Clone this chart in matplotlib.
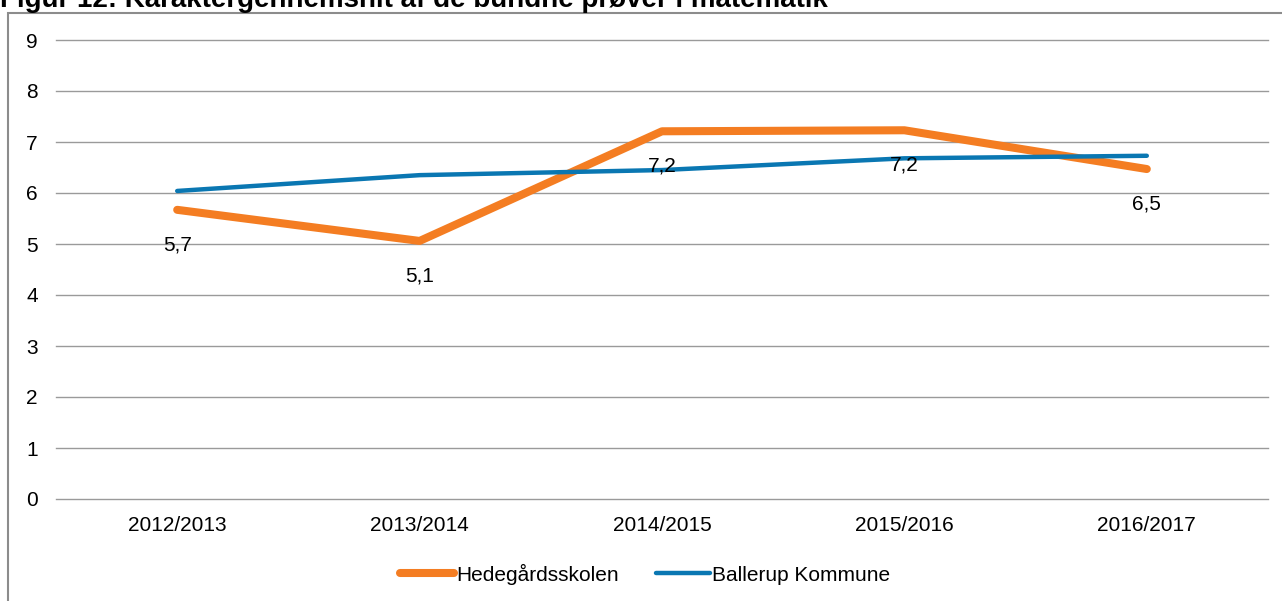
import matplotlib
matplotlib.use("Agg")
import matplotlib.pyplot as plt
from matplotlib.patches import Rectangle

plt.rcParams['font.family'] = ['Liberation Sans', 'DejaVu Sans']

categories = ["2012/2013", "2013/2014", "2014/2015", "2015/2016", "2016/2017"]
hedegaard = [5.67, 5.06, 7.21, 7.23, 6.47]
ballerup = [6.04, 6.35, 6.45, 6.68, 6.73]
labels_h = ["5,7", "5,1", "7,2", "7,2", "6,5"]
yticks = list(range(0, 10))
title = "Figur 12: Karaktergennemsnit af de bundne prøver i matematik"

W, H = 1282, 601
fig = plt.figure(figsize=(W / 100, H / 100), dpi=100)
ax = fig.add_axes([56 / W, 102 / H, (1268 - 56) / W, (499 - 40) / H])

x = list(range(len(categories)))
orange = '#F47D22'
blue = '#0A77B2'
ax.plot(x, hedegaard, color=orange, lw=5.8, solid_capstyle='round', label='Hedegårdsskolen', zorder=3)
ax.plot(x, ballerup, color=blue, lw=3.2, solid_capstyle='round', label='Ballerup Kommune', zorder=3)

for xi, v, t in zip(x, hedegaard, labels_h):
    ax.annotate(t, (xi, v), xytext=(0, -18.5), textcoords='offset points',
                ha='center', va='top', fontsize=15, color='black', zorder=4)

ax.set_xlim(-0.5, len(categories) - 0.5)
ax.set_ylim(0, 9)
ax.set_yticks(yticks)
ax.set_xticks(x)
ax.set_xticklabels(categories)
ax.tick_params(axis='both', length=0, labelsize=15, colors='black')
ax.tick_params(axis='y', pad=13)
ax.tick_params(axis='x', pad=12.5)
ax.grid(False)
for yv in yticks:
    ax.axhline(yv, color='#9a9a9a', lw=1.0, zorder=1, clip_on=False)
for s in ax.spines.values():
    s.set_visible(False)

leg = ax.legend(loc='center', bbox_to_anchor=(645 / W, 1 - 574 / H), bbox_transform=fig.transFigure,
                ncol=2, frameon=False, fontsize=15, handlelength=2.6, handletextpad=0.1,
                columnspacing=1.8, borderpad=0, borderaxespad=0)

fig.patches.append(Rectangle((8 / W, -0.1), 1.2, 1 - 13 / H + 0.1, transform=fig.transFigure,
                             fill=False, edgecolor='#8c8c8c', lw=1.5, zorder=0))

fig.text(0, 1 - 7 / H, title, fontsize=20, fontweight='bold', ha='left', va='baseline', color='black')

fig.savefig('out.png', dpi=100, facecolor='white')
